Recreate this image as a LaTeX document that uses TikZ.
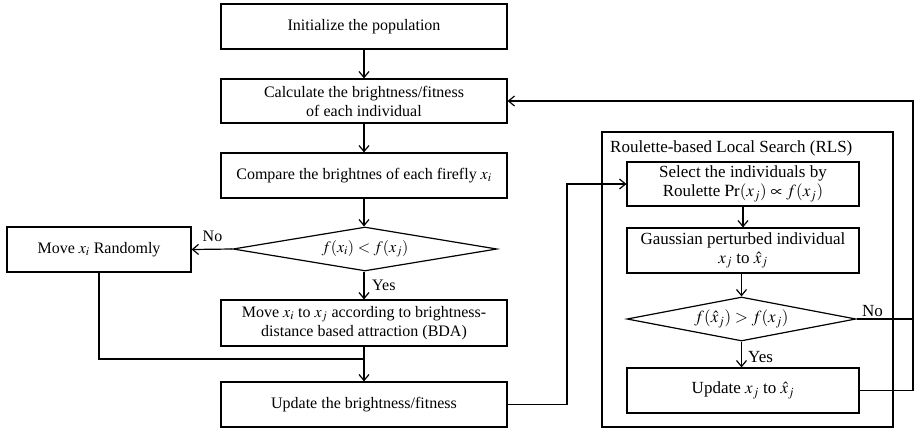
\documentclass[tikz,border=0pt]{standalone}
\usepackage{mathptmx}
\usepackage{fontspec}
\setmainfont{Liberation Serif}
\usetikzlibrary{shapes.geometric,arrows.meta}
\newcommand{\mainfs}{\fontsize{16}{19}\selectfont}
\newcommand{\rlsfs}{\fontsize{17}{19}\selectfont}
\begin{document}
\begin{tikzpicture}[x=1pt,y=-1pt,
  ln/.style={line width=1.2pt},
  box/.style={draw, ln, align=center, inner sep=0pt, font=\mainfs},
  mbox/.style={box, minimum width=286pt, minimum height=45pt},
  rbox/.style={box, minimum width=232pt, minimum height=45pt, font=\rlsfs},
  dia/.style={draw, ln, shape=diamond, aspect=6, inner sep=0pt},
  arr/.style={ln, -{Straight Barb[length=6pt,width=10pt]}},
  lab/.style={inner sep=0pt, font=\mainfs},
  rlab/.style={inner sep=0pt, font=\rlsfs}]
\useasboundingbox (0,0) rectangle (914,429);
% main column
\node[mbox] (b1) at (364,26.5) {Initialize the population};
\node[mbox, minimum height=44pt] (b2) at (364,101) {Calculate the brightness/fitness\\of each individual};
\node[mbox] (b3) at (364,175.5) {Compare the brightnes of each firefly $x_i$};
\node[dia, minimum width=264pt, minimum height=44pt, font=\mainfs] (d1) at (365,249) {$f(x_i) < f(x_j)$};
\node[mbox, minimum height=46pt] (b4) at (364,323) {Move $x_i$ to $x_j$ according to brightness-\\distance based attraction (BDA)};
\node[mbox] (b5) at (364,404.5) {Update the brightness/fitness};
\node[box, minimum width=184pt, minimum height=45pt] (rnd) at (99,249.5) {Move $x_i$ Randomly};
% RLS
\node[draw, ln, minimum width=291pt, minimum height=295pt, inner sep=0pt] (rls) at (747.5,279.5) {};
\node[rlab, anchor=base west] (rlst) at (610,152) {Roulette-based Local Search (RLS)};
\node[rbox, minimum height=44pt] (s1) at (743,184) {Select the individuals by\\Roulette $\Pr(x_j)\propto f(x_j)$};
\node[rbox] (s2) at (743,250.5) {Gaussian perturbed individual\\$x_j$ to $\hat{x}_j$};
\node[dia, minimum width=229pt, minimum height=44pt, font=\rlsfs] (d2) at (741.5,319) {$f(\hat{x}_j) > f(x_j)$};
\node[rbox] (s3) at (743,390.5) {Update $x_j$ to $\hat{x}_j$};
% labels
\node[lab] (no1) at (212.5,236) {No};
\node[lab, anchor=west] (yes1) at (372,285) {Yes};
\node[rlab] (no2) at (872.5,311) {No};
\node[rlab, anchor=west] (yes2) at (748,357) {Yes};
% coordinates
\coordinate (j1) at (364,359);
\coordinate (v1) at (567,184);
\coordinate (rt) at (913,101);
% connectors
\draw[arr] (b1) -- (b2);
\draw[arr] (b2) -- (b3);
\draw[arr] (b3.south) -- (b3.south |- d1.north);
\draw[arr] (d1.south -| b4.north) -- (b4.north);
\draw[arr] (d1.west) -- (rnd.east);
\draw[ln] (rnd.south) |- (j1);
\draw[arr] (b4) -- (b5);
\draw[arr] (b5.east) -| (v1) -- (s1.west);
\draw[arr] (s1) -- (s2);
\draw[arr] (s2.south -| d2.north) -- (d2.north);
\draw[arr] (d2.south) -- (d2.south |- s3.north);
\draw[arr] (d2.east) -| (rt) -- (b2.east);
\draw[ln] (s3.east) -| (d2.east -| rt);
\end{tikzpicture}
\end{document}
